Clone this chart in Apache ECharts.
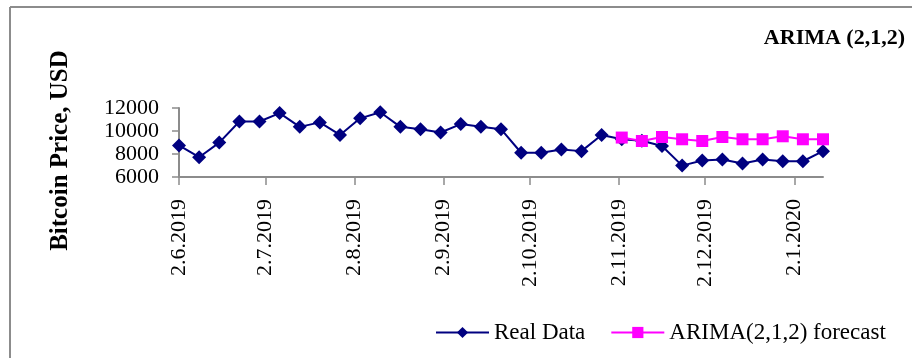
<!DOCTYPE html>
<html>
<head>
<meta charset="utf-8">
<style>
  html, body { margin: 0; padding: 0; background: #fff; }
  #chart { width: 912px; height: 358px; }
</style>
<script src="https://cdn.jsdelivr.net/npm/echarts@6/dist/echarts.min.js"></script>
</head>
<body>
<div id="chart"></div>
<script>
// Weekly observation dates (D.M.YYYY)
const realDates = [
  '2.6.2019', '9.6.2019', '16.6.2019', '23.6.2019', '30.6.2019',
  '7.7.2019', '14.7.2019', '21.7.2019', '28.7.2019',
  '4.8.2019', '11.8.2019', '18.8.2019', '25.8.2019',
  '1.9.2019', '8.9.2019', '15.9.2019', '22.9.2019', '29.9.2019',
  '6.10.2019', '13.10.2019', '20.10.2019', '27.10.2019',
  '3.11.2019', '10.11.2019', '17.11.2019', '24.11.2019',
  '1.12.2019', '8.12.2019', '15.12.2019', '22.12.2019', '29.12.2019',
  '5.1.2020', '12.1.2020'
];
// Bitcoin closing price, USD
const realValues = [
  8750, 7720, 8990, 10830, 10830,
  11560, 10360, 10750, 9660,
  11100, 11630, 10360, 10160,
  9870, 10600, 10360, 10160, 8110,
  8110, 8400, 8250, 9660,
  9280, 9150, 8690, 6990,
  7430, 7520, 7170, 7520, 7370,
  7370, 8250
];
// ARIMA(2,1,2) forecast period
const forecastDates = [
  '3.11.2019', '10.11.2019', '17.11.2019', '24.11.2019',
  '1.12.2019', '8.12.2019', '15.12.2019', '22.12.2019', '29.12.2019',
  '5.1.2020', '12.1.2020'
];
const forecastValues = [
  9430, 9130, 9480, 9280,
  9130, 9480, 9280, 9280, 9540,
  9280, 9280
];
// Month tick labels on the date axis
const tickLabels = [
  '2.6.2019', '2.7.2019', '2.8.2019', '2.9.2019',
  '2.10.2019', '2.11.2019', '2.12.2019', '2.1.2020'
];

// Dates are placed on a day-count axis starting at the first observation
const DAY = 86400000;
function toUTC(s) {
  const p = s.split('.').map(Number);
  return Date.UTC(p[2], p[1] - 1, p[0]);
}
const origin = toUTC(realDates[0]);
const toDay = s => Math.round((toUTC(s) - origin) / DAY);

const tickDays = tickLabels.map(toDay);
const labelByDay = {};
tickLabels.forEach((t, i) => { labelByDay[tickDays[i]] = t; });

const serif = '"Liberation Serif", "Times New Roman", serif';
const axisGray = '#8c8c8c';

const chart = echarts.init(document.getElementById('chart'), null, { renderer: 'canvas' });
chart.setOption({
  animation: false,
  backgroundColor: '#fff',
  textStyle: { fontFamily: serif, color: '#000' },
  title: {
    text: 'ARIMA (2,1,2)',
    right: 2,
    top: 22,
    textStyle: { fontFamily: serif, fontWeight: 'bold', fontSize: 22, color: '#000' }
  },
  legend: {
    left: 430,
    top: 316,
    itemWidth: 53,
    itemHeight: 14,
    itemGap: 25,
    textStyle: { fontFamily: serif, fontSize: 23, color: '#000' },
    data: ['Real Data', 'ARIMA(2,1,2) forecast']
  },
  grid: { left: 179, right: 89, top: 108, bottom: 181, containLabel: false },
  xAxis: {
    type: 'value',
    min: 0,
    max: toDay(realDates[realDates.length - 1]),
    splitLine: { show: false },
    axisLine: { lineStyle: { color: axisGray, width: 2 } },
    axisTick: { show: true, customValues: tickDays, length: 8, lineStyle: { color: axisGray, width: 1.5 } },
    axisLabel: {
      customValues: tickDays,
      formatter: v => labelByDay[Math.round(v)] || '',
      rotate: 90,
      margin: 22,
      fontFamily: serif,
      fontSize: 22,
      color: '#000',
      hideOverlap: false
    }
  },
  yAxis: {
    type: 'value',
    min: 6000,
    max: 12000,
    interval: 2000,
    name: 'Bitcoin Price, USD',
    nameLocation: 'middle',
    nameGap: 106,
    nameRotate: 90,
    nameTextStyle: { fontFamily: serif, fontWeight: 'bold', fontSize: 25, color: '#000', padding: [0, 16, 0, 0] },
    splitLine: { show: false },
    axisLine: { show: true, lineStyle: { color: axisGray, width: 2 } },
    axisTick: { show: true, length: 7, lineStyle: { color: axisGray, width: 1.5 } },
    axisLabel: { fontFamily: serif, fontSize: 22, color: '#000', margin: 20, formatter: v => String(v) }
  },
  series: [
    {
      name: 'Real Data',
      type: 'line',
      data: realDates.map((d, i) => [toDay(d), realValues[i]]),
      symbol: 'diamond',
      symbolSize: 14,
      itemStyle: { color: '#000080' },
      lineStyle: { color: '#000080', width: 2 },
      z: 2
    },
    {
      name: 'ARIMA(2,1,2) forecast',
      type: 'line',
      data: forecastDates.map((d, i) => [toDay(d), forecastValues[i]]),
      symbol: 'rect',
      symbolSize: 12,
      itemStyle: { color: '#ff00ff' },
      lineStyle: { color: '#ff00ff', width: 2 },
      z: 3
    }
  ],
  graphic: [
    { type: 'line', shape: { x1: 10, y1: 7, x2: 912, y2: 7 }, style: { stroke: '#8c8c8c', lineWidth: 2 } },
    { type: 'line', shape: { x1: 10, y1: 7, x2: 10, y2: 358 }, style: { stroke: '#8c8c8c', lineWidth: 2 } }
  ]
});
</script>
</body>
</html>
